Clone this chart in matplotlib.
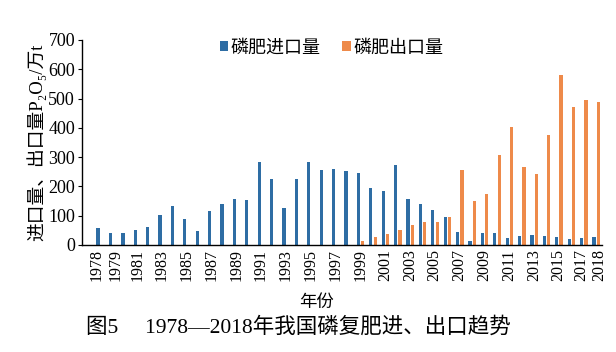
import matplotlib.pyplot as plt

plt.rcParams['font.family'] = ['Liberation Serif', 'Noto Sans CJK SC', 'DejaVu Serif']

years = list(range(1978, 2019))
imports = [57, 42, 40, 50, 62, 102, 134, 89, 48, 117, 140, 156, 155, 284, 224, 127, 224, 284,
           256, 259, 253, 246, 196, 185, 272, 157, 140, 121, 96, 45, 14, 41, 41, 23, 31, 34,
           31, 27, 20, 25, 26]
exports = [0, 0, 0, 0, 0, 0, 0, 0, 0, 0, 0, 0, 0, 0, 0, 0, 0, 0,
           0, 0, 0, 15, 28, 39, 51, 68, 78, 77, 94, 255, 149, 174, 308, 403, 266, 243,
           376, 580, 471, 494, 487]
tick_years = [1978] + list(range(1979, 2018, 2)) + [2018]

fig = plt.figure(figsize=(6.16, 3.52), dpi=100)
ax = fig.add_axes([0.1331, 0.304, 0.8442, 0.5824])

ax.bar([y - 0.15 for y in years], imports, width=0.26, color='#2E6DA4', label='磷肥进口量')
ax.bar([y + 0.2 for y in years], exports, width=0.26, color='#EE8A4A', label='磷肥出口量')

# crowded end labels pushed apart a little
nudge = {1978: -0.25, 1979: 0.25, 2017: -0.2, 2018: 0.3}
ax.set_xlim(1976.55, 2018.5)
ax.set_ylim(0, 700)
ax.set_yticks(range(0, 701, 100))
ax.set_xticks([y + nudge.get(y, 0) for y in tick_years])
ax.set_xticklabels([str(y) for y in tick_years], rotation=90, fontsize=11.5)
ax.tick_params(axis='y', labelsize=13, length=3, pad=2)
ax.tick_params(axis='x', length=0, pad=3)
for s in ['top', 'right']:
    ax.spines[s].set_visible(False)
for s in ['left', 'bottom']:
    ax.spines[s].set_linewidth(1.0)
    ax.spines[s].set_color('black')

ax.set_ylabel('进口量、出口量P₂O₅/万t', fontsize=13.5, labelpad=1)
ax.legend(loc='center', bbox_to_anchor=(0.48, 0.96), ncol=2, frameon=False,
          fontsize=13, handlelength=0.45, handleheight=0.45, handletextpad=0.15,
          columnspacing=1.2)

fig.text(0.513, 0.139, '年份', ha='center', va='center', fontsize=12.5)
fig.text(0.485, 0.071, '图5\u2003 1978—2018年我国磷复肥进、出口趋势', ha='center', va='center',
         fontsize=15.5)

fig.savefig('out.png', dpi=100)
